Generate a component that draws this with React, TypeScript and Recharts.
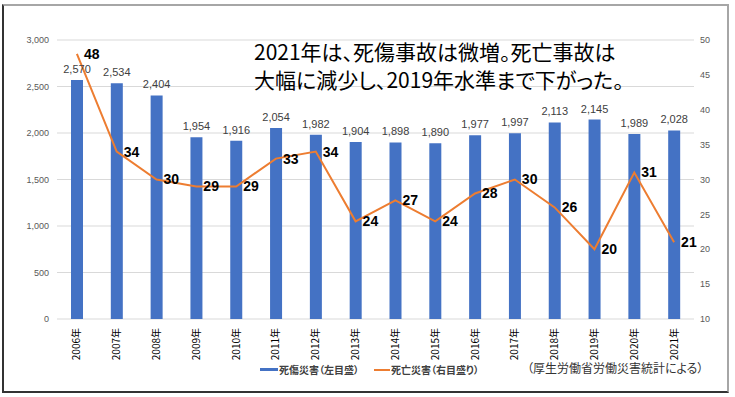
import React from "react";
import {
  ComposedChart,
  Bar,
  Line,
  XAxis,
  YAxis,
  CartesianGrid,
  Legend,
  LabelList,
} from "recharts";

// ---------------------------------------------------------------------------
// Data (厚生労働省 労働災害統計)
// ---------------------------------------------------------------------------

const years = [
  "2006年", "2007年", "2008年", "2009年", "2010年", "2011年", "2012年", "2013年",
  "2014年", "2015年", "2016年", "2017年", "2018年", "2019年", "2020年", "2021年",
];
const injuries = [
  2570, 2534, 2404, 1954, 1916, 2054, 1982, 1904,
  1898, 1890, 1977, 1997, 2113, 2145, 1989, 2028,
];
const deaths = [48, 34, 30, 29, 29, 33, 34, 24, 27, 24, 28, 30, 26, 20, 31, 21];

const leftTicks = [0, 500, 1000, 1500, 2000, 2500, 3000];
const rightTicks = [10, 15, 20, 25, 30, 35, 40, 45, 50];

const data = years.map((year, i) => ({
  year,
  injuries: injuries[i],
  deaths: deaths[i],
}));

const BLUE = "#4472C4";
const ORANGE = "#ED7D31";
const JP_FONT = '"Noto Sans CJK JP", "Noto Sans", sans-serif';

// ---------------------------------------------------------------------------
// Rotated year tick
// ---------------------------------------------------------------------------

function YearTick({ x, y, payload }: any) {
  const ty = y + 1;
  return (
    <text
      x={x}
      y={ty}
      dy="0.35em"
      textAnchor="end"
      transform={`rotate(-90, ${x}, ${ty})`}
      fill="#000"
      fontSize={10}
      fontFamily={JP_FONT}
    >
      {payload.value}
    </text>
  );
}

// ---------------------------------------------------------------------------
// Legend (bar first, then line)
// ---------------------------------------------------------------------------

function LegendContent({ payload }: any) {
  const items = [...(payload || [])].sort((a: any, b: any) =>
    a.type === b.type ? 0 : a.type === "line" ? 1 : -1,
  );
  return (
    <div
      style={{
        display: "flex",
        alignItems: "center",
        gap: 15,
        fontFamily: JP_FONT,
        fontFeatureSettings: '"palt"',
      }}
    >
      {items.map((entry: any) => (
        <span key={entry.value} style={{ display: "flex", alignItems: "center", gap: 1 }}>
          <span
            style={{
              display: "inline-block",
              width: entry.type === "line" ? 16 : 18,
              height: entry.type === "line" ? 2 : 3,
              background: entry.color,
            }}
          />
          <span style={{ fontSize: 10, fontWeight: 700, color: "#404040" }}>{entry.value}</span>
        </span>
      ))}
    </div>
  );
}

// ---------------------------------------------------------------------------
// Main
// ---------------------------------------------------------------------------

export default function App() {
  return (
    <div style={{ position: "absolute", left: 0, top: 0, width: 735, height: 397, background: "#fff" }}>
      {/* frame */}
      <div
        style={{
          position: "absolute",
          left: 2,
          top: 4,
          width: 723,
          height: 385,
          borderTop: "2px solid #a6a6a6",
          borderRight: "2px solid #a6a6a6",
          borderLeft: "2px solid #333",
          borderBottom: "2px solid #333",
        }}
      />

      <div style={{ position: "absolute", left: 0, top: 0 }}>
        <ComposedChart
          width={735}
          height={397}
          data={data}
          margin={{ top: 40, right: 0, bottom: 38, left: 0 }}
          barCategoryGap={0}
          style={{ fontFamily: '"Liberation Sans", Arial, sans-serif' }}
        >
          <CartesianGrid vertical={false} stroke="#d9d9d9" yAxisId="left" />
          <XAxis
            dataKey="year"
            height={40}
            interval={0}
            tick={<YearTick />}
            tickLine={false}
            axisLine={false}
          />
          <YAxis
            yAxisId="left"
            orientation="left"
            width={57}
            domain={[0, 3000]}
            ticks={leftTicks}
            tickFormatter={(v: number) => v.toLocaleString("en-US")}
            tick={{ fill: "#595959", fontSize: 9 }}
            tickLine={false}
            axisLine={false}
          />
          <YAxis
            yAxisId="right"
            orientation="right"
            width={41}
            domain={[10, 50]}
            ticks={rightTicks}
            tick={{ fill: "#595959", fontSize: 9 }}
            tickMargin={0}
            tickLine={false}
            axisLine={false}
          />
          <Legend
            layout="horizontal"
            verticalAlign="middle"
            align="center"
            wrapperStyle={{ top: 362, left: 260, width: 240, height: 16 }}
            content={<LegendContent />}
          />
          <Bar
            yAxisId="left"
            dataKey="injuries"
            name="死傷災害（左目盛）"
            fill={BLUE}
            barSize={12}
            legendType="rect"
            isAnimationActive={false}
          >
            <LabelList
              dataKey="injuries"
              position="top"
              offset={7}
              formatter={(v: any) => Number(v).toLocaleString("en-US")}
              fill="#404040"
              fontSize={11}
            />
          </Bar>
          <Line
            yAxisId="right"
            type="linear"
            dataKey="deaths"
            name="死亡災害（右目盛り）"
            stroke={ORANGE}
            strokeWidth={2}
            dot={false}
            legendType="line"
            isAnimationActive={false}
          >
            <LabelList
              dataKey="deaths"
              position="right"
              offset={7}
              fill="#000"
              fontSize={14}
              fontWeight={700}
            />
          </Line>
        </ComposedChart>
      </div>

      {/* headline */}
      <div
        style={{
          position: "absolute",
          left: 254,
          top: 37,
          fontFamily: JP_FONT,
          fontSize: 21,
          lineHeight: "28px",
          color: "#000",
          fontFeatureSettings: '"palt"',
          whiteSpace: "nowrap",
        }}
      >
        <div>2021年は、死傷事故は微増。死亡事故は</div>
        <div>大幅に減少し、2019年水準まで下がった。</div>
      </div>

      {/* source */}
      <div
        style={{
          position: "absolute",
          left: 527,
          top: 359,
          fontFamily: JP_FONT,
          fontSize: 12,
          color: "#333",
          fontFeatureSettings: '"palt"',
          whiteSpace: "nowrap",
        }}
      >
        （厚生労働省労働災害統計による）
      </div>
    </div>
  );
}
